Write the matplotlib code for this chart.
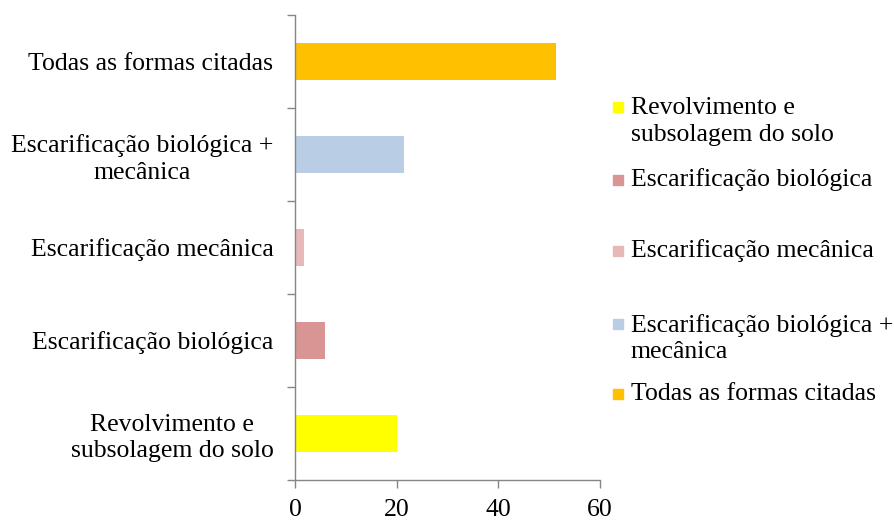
import matplotlib.pyplot as plt
from matplotlib.patches import Rectangle

plt.rcParams['font.family'] = ['Liberation Serif', 'DejaVu Serif']

# categories bottom to top
categorias = ['Revolvimento e\nsubsolagem do solo', 'Escarificação biológica',
              'Escarificação mecânica', 'Escarificação biológica +\nmecânica',
              'Todas as formas citadas']
valores = [20.0, 6.0, 1.7, 21.4, 51.3]
cores = ['#FFFF00', '#D99594', '#E6B9B8', '#B9CDE5', '#FFC000']
xticks = [0, 20, 40, 60]

fs = 18.5
fig = plt.figure(figsize=(8.95, 5.21), dpi=100)
ax = fig.add_axes([0.3296, 0.0787, 0.3408, 0.8925])

pos = list(range(len(categorias)))
ax.barh(pos, valores, height=0.4, color=cores)

ax.set_xlim(0, 60)
ax.set_ylim(-0.5, len(categorias) - 0.5)
ax.set_xticks(xticks)
ax.set_yticks(pos)
ax.set_yticklabels(categorias, fontsize=fs, linespacing=1.25,
                   ha='right', multialignment='center')
ax.set_yticks([p - 0.5 for p in pos] + [len(categorias) - 0.5], minor=True)

gray = '#868686'
for s in ['top', 'right']:
    ax.spines[s].set_visible(False)
for s in ['left', 'bottom']:
    ax.spines[s].set_color(gray)
    ax.spines[s].set_linewidth(1.0)

ax.tick_params(axis='y', which='major', length=0, pad=15.5)
ax.tick_params(axis='y', which='minor', length=6, color=gray, width=1.0)
ax.tick_params(axis='x', which='major', length=6, color=gray, width=1.0,
               labelsize=fs, pad=8)

# legend drawn by hand (irregular spacing like the original)
leg_y = [107, 180, 251, 324, 394]   # first-line centres, pixels from top
line_px = 29
for lab, c, y in zip(categorias, cores, leg_y):
    n = len(lab.split('\n'))
    yc = 1 - (y + (n - 1) * line_px / 2) / 521.0
    yf = 1 - y / 521.0
    fig.patches.append(Rectangle((613 / 895, yf - 5 / 521), 10 / 895, 10 / 521,
                                 transform=fig.transFigure, color=c))
    fig.text(631 / 895, yc, lab, fontsize=fs, va='center', ha='left',
             linespacing=1.25)

fig.savefig('out.png', dpi=100)
